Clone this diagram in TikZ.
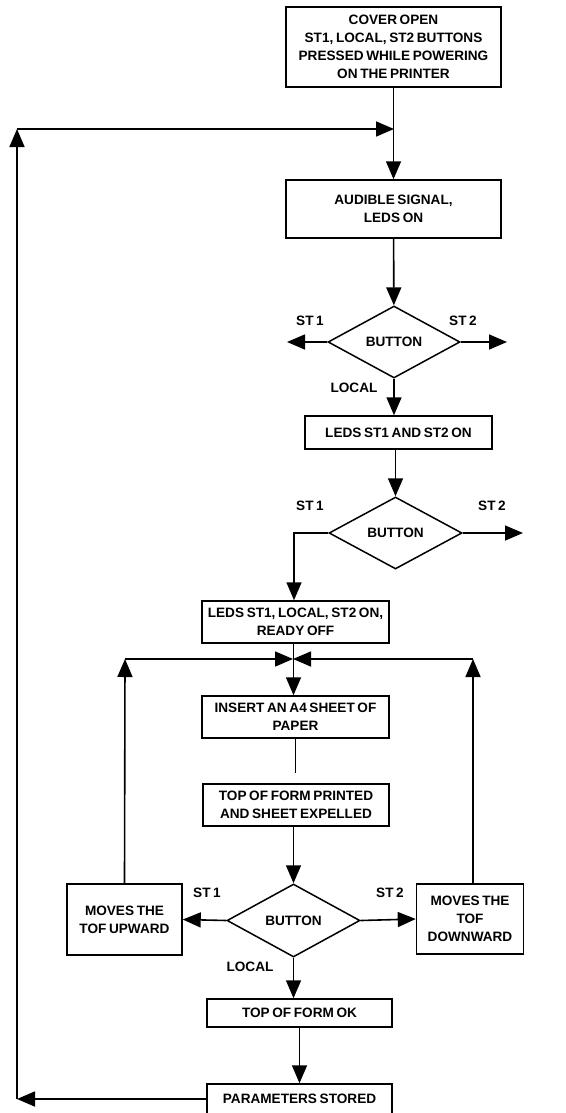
\documentclass[tikz,border=0pt]{standalone}
\usepackage{tikz}
\usetikzlibrary{shapes.geometric,arrows.meta}
\usepackage{fontspec}
\setmainfont{Liberation Sans}[WordSpace=0.7]

\begin{document}
\begin{tikzpicture}[x=1pt, y=-1pt,
  flowbox/.style={rectangle, draw, line width=1.5pt, align=center, inner sep=2pt, font=\fontsize{13.6}{18}\selectfont\bfseries},
  decision/.style={diamond, draw, line width=1.5pt, inner sep=0pt, font=\fontsize{13.6}{18}\selectfont\bfseries},
  tag/.style={font=\fontsize{13.6}{18}\selectfont\bfseries},
  arr/.style={-{Triangle[length=18pt, width=15pt]}, line width=1.6pt},
  plain/.style={line width=1.6pt}
]
  \useasboundingbox (0,0) rectangle (565,1113);

  \node[flowbox, minimum width=215, minimum height=80] (start) at (393.5,47) {COVER OPEN\\ST1, LOCAL, ST2 BUTTONS\\PRESSED WHILE POWERING\\ON THE PRINTER};
  \node[flowbox, minimum width=215, minimum height=58] (signal) at (393.5,209) {AUDIBLE SIGNAL,\\LEDS ON};
  \node[decision, minimum width=132, minimum height=72] (btnA) at (394,342) {BUTTON};
  \node[flowbox, minimum width=187, minimum height=33] (leds) at (398.5,432.5) {LEDS ST1 AND ST2 ON};
  \node[decision, minimum width=133, minimum height=72] (btnB) at (395.5,533) {BUTTON};
  \node[flowbox, minimum width=187, minimum height=42] (ready) at (295.5,622) {LEDS ST1, LOCAL, ST2 ON,\\READY OFF};
  \node[flowbox, minimum width=187, minimum height=42] (insert) at (295.5,717) {INSERT AN A4 SHEET OF\\PAPER};
  \node[flowbox, minimum width=186, minimum height=42] (printed) at (296,805) {TOP OF FORM PRINTED\\AND SHEET EXPELLED};
  \node[decision, minimum width=133, minimum height=73] (btnC) at (293.5,920.5) {BUTTON};
  \node[flowbox, minimum width=115, minimum height=71] (up) at (124.5,919.5) {MOVES THE\\TOF UPWARD};
  \node[flowbox, minimum width=107, minimum height=70] (down) at (470,919) {MOVES THE\\TOF\\DOWNWARD};
  \node[flowbox, minimum width=185, minimum height=28] (ok) at (299.5,1013) {TOP OF FORM OK};
  \node[flowbox, minimum width=185, minimum height=30] (stored) at (299.5,1099) {PARAMETERS STORED};

  \coordinate (merge) at (394,129);
  \coordinate (topleft) at (17,129);
  \coordinate (lowleft) at (17,1099);
  \coordinate (aleft) at (287,342);
  \coordinate (aright) at (507,342);
  \coordinate (bright) at (523,533);
  \coordinate (join) at (293,659);
  \coordinate (upcorner) at (125,659);
  \coordinate (downcorner) at (473,659);
  \coordinate (gap) at (295.5,773);

  \node[tag] (stA1) at (310,321) {ST 1};
  \node[tag] (stA2) at (463,321) {ST 2};
  \node[tag] (locA) at (354,388) {LOCAL};
  \node[tag] (stB1) at (310,506) {ST 1};
  \node[tag] (stB2) at (492,506) {ST 2};
  \node[tag] (stC1) at (207,893) {ST 1};
  \node[tag] (stC2) at (390,893) {ST 2};
  \node[tag] (locC) at (250,967) {LOCAL};

  \draw[arr] (start) -- (signal);
  \draw[arr] (signal) -- (btnA);
  \draw[arr] (btnA.west) -- (aleft);
  \draw[arr] (btnA.east) -- (aright);
  \draw[arr] (btnA.south) -- (btnA.south |- leds.north);
  \draw[arr] (leds.south -| btnB.north) -- (btnB.north);
  \draw[arr] (btnB.east) -- (bright);
  \draw[arr] (btnB.west) -| ([xshift=-1.5pt]ready.north);
  \draw[arr] ([xshift=-2pt]ready.south) -- ([xshift=-2pt]insert.north);
  \draw[plain] (insert.south) -- (gap);
  \draw[arr] (printed.south -| btnC.north) -- (btnC.north);
  \draw[arr] (btnC.west) -- (up.east);
  \draw[arr] (btnC.east) -- (down.west);
  \draw[arr] (btnC.south) -- (btnC.south |- ok.north);
  \draw[arr] (ok) -- (stored);

  \draw[arr] (up.north) -- (upcorner);
  \draw[arr] (upcorner) -- (join);
  \draw[arr] (down.north -| downcorner) -- (downcorner);
  \draw[arr] (downcorner) -- (join);

  \draw[arr] (stored.west) -- (lowleft);
  \draw[arr] (lowleft) -- (topleft);
  \draw[arr] (topleft) -- (merge);
\end{tikzpicture}
\end{document}
